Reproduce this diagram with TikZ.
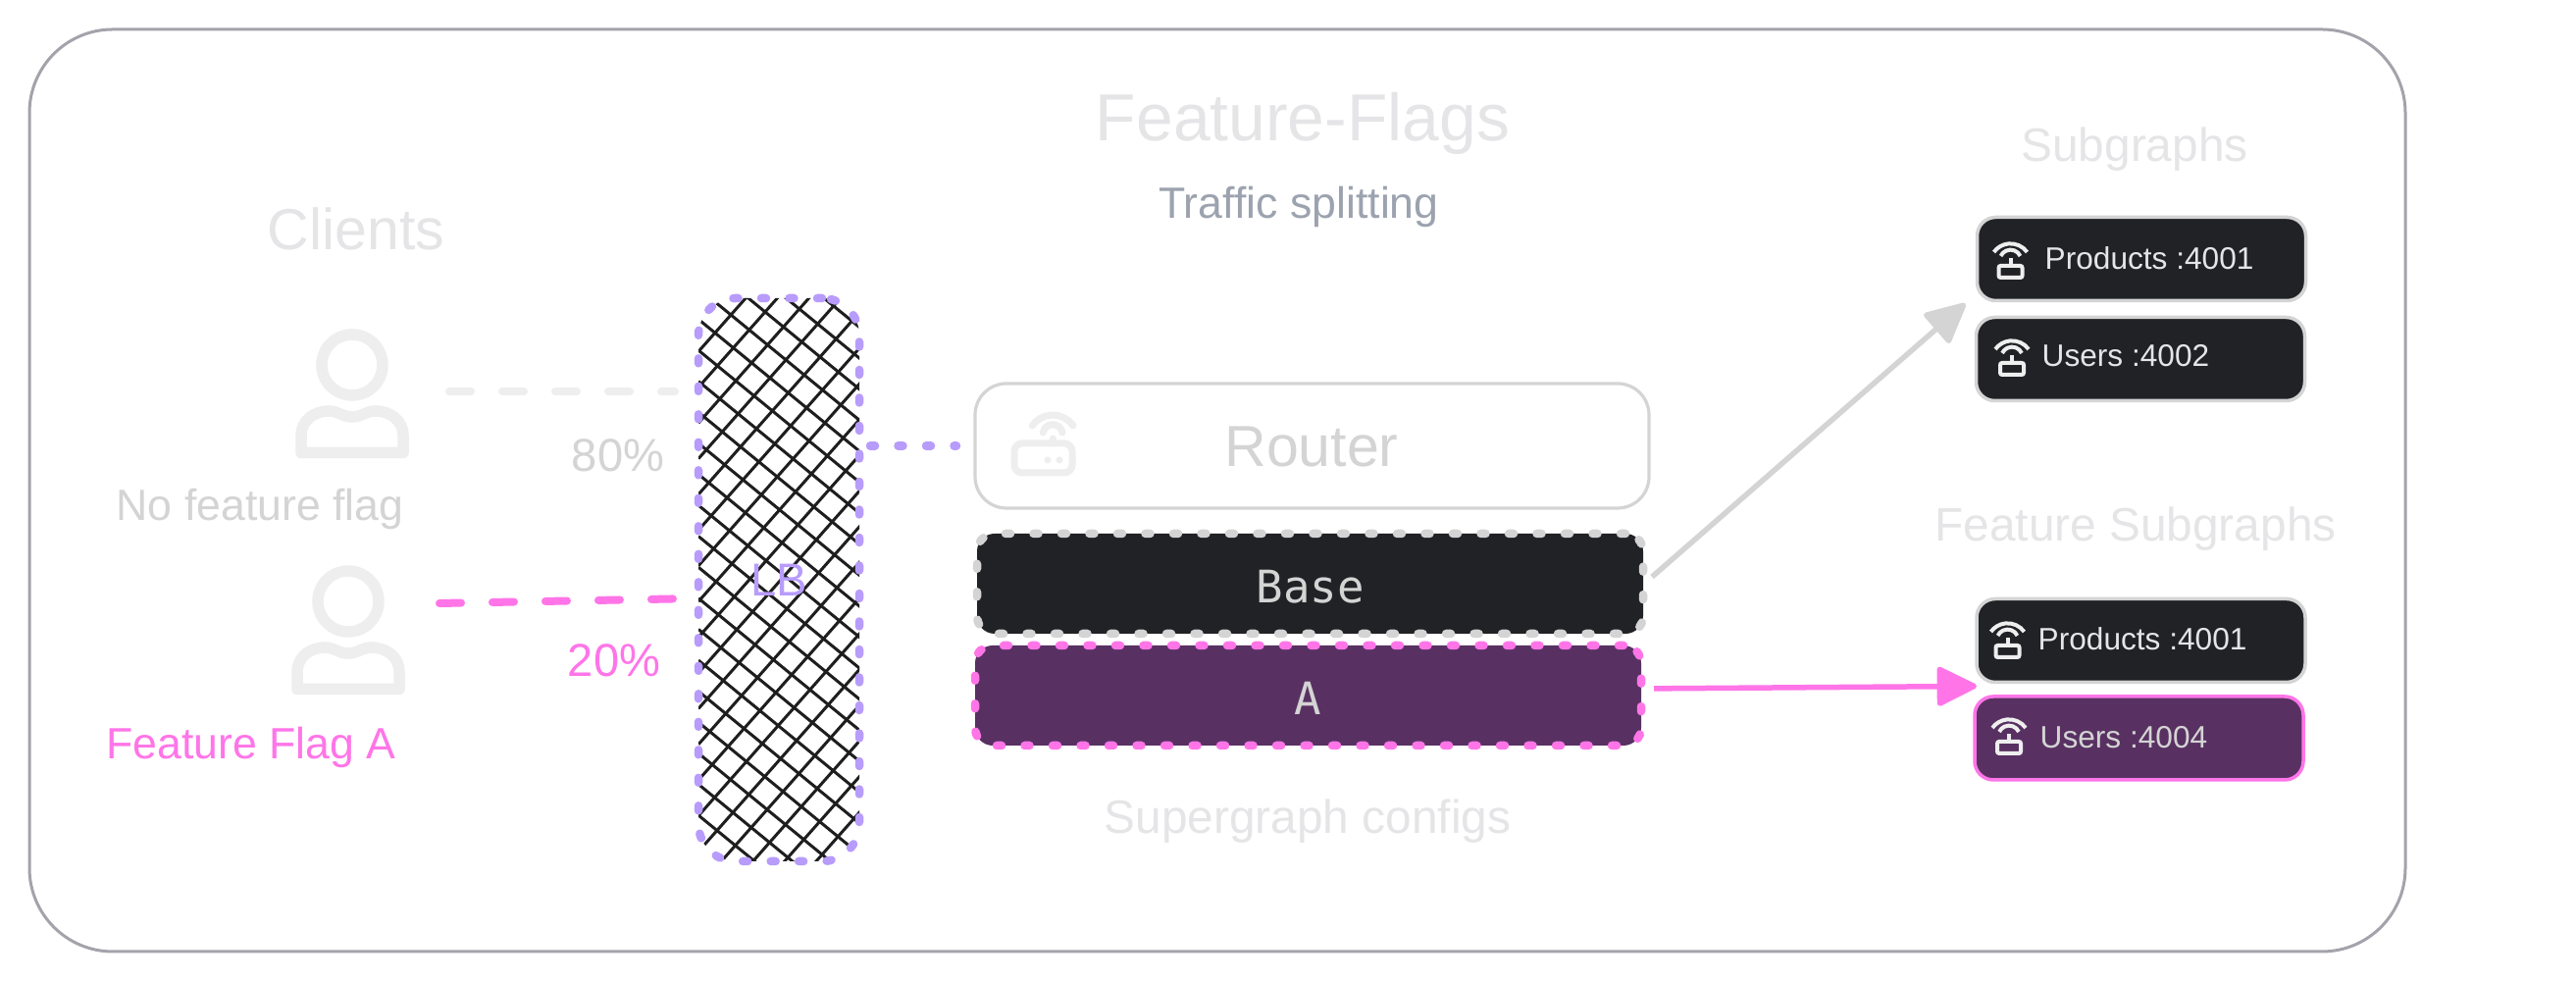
\documentclass[tikz,border=0pt]{standalone}
\usepackage{fontspec}
\setmainfont{Liberation Sans}
\setmonofont{DejaVu Sans Mono}
\definecolor{ash}{HTML}{D4D4D4}
\definecolor{mist}{HTML}{E5E5E7}
\definecolor{pale}{HTML}{EEEEEE}
\definecolor{slate}{HTML}{9CA3AF}
\definecolor{rim}{HTML}{A3A3AB}
\definecolor{pinky}{HTML}{FF75E8}
\definecolor{lilac}{HTML}{B89CFB}
\definecolor{coal}{HTML}{212226}
\definecolor{plum}{HTML}{583162}
\definecolor{hatchink}{HTML}{1E1E1E}
\usetikzlibrary{arrows.meta, positioning, calc}
\tikzset{
  head/.style={text=mist, inner sep=0pt, font=\fontsize{13.6pt}{16pt}\selectfont},
  bigger/.style={font=\fontsize{16.8pt}{20pt}\selectfont},
  lbl/.style={inner sep=0pt, font=\fontsize{12.7pt}{15pt}\selectfont},
  pct/.style={inner sep=0pt, font=\fontsize{13.4pt}{16pt}\selectfont},
  dotted line/.style={line width=0.085cm, dash pattern=on 0.05cm off 0.235cm, line cap=round},
  confbox/.style={dotted line, rounded corners=0.18cm, minimum width=6.79cm, minimum height=1.02cm, outer sep=0pt,
                  text=ash, text height=0.40cm, font=\ttfamily\fontsize{13pt}{16pt}\selectfont},
  subbox/.style={rounded corners=0.19cm, minimum width=3.35cm, minimum height=0.85cm, outer sep=0pt,
                 line width=0.035cm, draw=ash, fill=coal},
  subtext/.style={anchor=west, inner sep=0pt, text=mist, font=\fontsize{9pt}{11pt}\selectfont},
  flow/.style={-{Triangle[length=0.44cm,width=0.42cm,round]}, line width=0.055cm},
  split/.style={line width=0.08cm, line cap=round, dash pattern=on 0.22cm off 0.32cm},
  hatchline/.style={draw=hatchink, solid, line cap=butt, line width=0.03cm},
  wifi/.pic={
    \draw (0.17,0.08) arc[start angle=36,end angle=144,radius=0.21];
    \draw (0.10,0.04) arc[start angle=25,end angle=155,radius=0.11];
    \draw (0,0.02)--(0,-0.05);
    \draw[rounded corners=0.02cm] (-0.12,-0.06) rectangle (0.12,-0.18);
  },
  person/.pic={
    \draw (0,0) circle[radius=0.31];
    \draw[line join=round] (-0.52,-0.895)--(-0.52,-0.72) .. controls (-0.52,-0.56) and (-0.38,-0.47) .. (-0.24,-0.47)
      .. controls (-0.14,-0.47) and (-0.1,-0.53) .. (0,-0.53) .. controls (0.1,-0.53) and (0.14,-0.47) .. (0.24,-0.47)
      .. controls (0.38,-0.47) and (0.52,-0.56) .. (0.52,-0.72)--(0.52,-0.895)--cycle;
  },
}
\begin{document}
\begin{tikzpicture}
  \useasboundingbox (0,0) rectangle (26.26,10);
  \fill[white] (0,0) rectangle (26.26,10);
  \node[draw=rim,line width=0.03cm,rounded corners=0.85cm,minimum width=24.22cm,minimum height=9.4cm,outer sep=0pt] (frame) at (12.41,5) {};

  % headings
  \node[head,font=\fontsize{19.3pt}{23pt}\selectfont] (flags) at (13.28,8.74) {Feature-Flags};
  \node[lbl,text=slate] (traffic) at (13.24,7.89) {Traffic splitting};
  \node[head,bigger] (clients) at (3.63,7.67) {Clients};
  \node[head] (subs) at (21.76,8.48) {Subgraphs};
  \node[head] (featsubs) at (21.77,4.61) {Feature Subgraphs};
  \node[head] (configs) at (13.33,1.63) {Supergraph configs};

  % clients
  \pic[draw=pale,line width=0.115cm] at (3.59,6.28) {person};
  \pic[draw=pale,line width=0.115cm] at (3.55,3.87) {person};
  \coordinate (nfout) at (4.58,6.01);
  \coordinate (ffout) at (4.48,3.85);
  \node[lbl,text=ash] (noflag) at (2.65,4.81) {No feature flag};
  \node[lbl,text=pinky] (flaga) at (2.56,2.38) {Feature Flag A};
  \node[pct,text=ash] (eighty) at (6.30,5.36) {80\%};
  \node[pct,text=pinky] (twenty) at (6.26,3.27) {20\%};

  % load balancer
  \node[draw=lilac,dotted line,rounded corners=0.38cm,
    minimum width=1.64cm,minimum height=5.74cm,outer sep=0pt,
    path picture={
      \foreach \k in {-4,...,17} \draw[hatchline] (-0.82,{2.655-0.316*\k})--++(1.66,-1.36);
      \foreach \k in {0,...,21} \draw[hatchline] (-0.82,{2.69-0.364*\k})--++(1.66,1.876);
    }] (lb) at (7.94,4.09) {};
  \node[pct,text=lilac] (lbtext) at (lb.center) {LB};

  % router and configs
  \node[draw=ash,line width=0.032cm,rounded corners=0.32cm,minimum width=6.87cm,minimum height=1.27cm,outer sep=0pt] (router) at (13.375,5.455) {};
  \node[bigger,inner sep=0pt,text=ash] (routertext) at (13.37,5.44) {Router};
  \begin{scope}[draw=pale,line width=0.07cm,line cap=round]
    \draw (10.94,5.66) arc[start angle=35,end angle=145,radius=0.255];
    \draw (10.83,5.59) arc[start angle=10,end angle=170,radius=0.10];
    \draw (10.73,5.53)--(10.73,5.50);
    \draw[rounded corners=0.08cm] (10.34,5.18) rectangle (10.93,5.48);
    \fill[pale] (10.68,5.31) circle[radius=0.035] (10.80,5.31) circle[radius=0.035];
  \end{scope}
  \node[confbox,draw=ash,fill=coal] (base) at (13.355,4.05) {Base};
  \node[confbox,draw=pinky,fill=plum] (confa) at (13.335,2.91) {A};

  % subgraphs
  \node[subbox] (subone) at (21.83,7.36) {};
  \node[subbox] (subtwo) at (21.82,6.34) {};
  \node[subbox] (subthree) at (21.825,3.47) {};
  \node[subbox,draw=pinky,fill=plum] (subfour) at (21.805,2.475) {};
  \node[subtext] (onetext) at (20.84,7.37) {Products :4001};
  \node[subtext] (twotext) at (20.81,6.37) {Users :4002};
  \node[subtext] (threetext) at (20.77,3.49) {Products :4001};
  \node[subtext,text=ash] (fourtext) at (20.79,2.48) {Users :4004};
  \foreach \ix/\iy in {20.495/7.35, 20.51/6.36, 20.465/3.48, 20.48/2.50}
    \pic[draw=pale,line width=0.04cm] at (\ix,\iy) {wifi};

  % connectors
  \draw[split,draw=pale,shorten >=0.24cm] (nfout)--(nfout -| lb.west);
  \draw[split,draw=pinky,shorten >=0.16cm] (ffout)--([yshift=0.05cm]ffout -| lb.west);
  \draw[draw=lilac,dotted line,shorten <=0.11cm,shorten >=0.19cm] (router.west -| lb.east)--(router.west);
  \draw[flow,draw=ash,fill=ash,shorten <=0.12cm] ([yshift=-0.01cm]base.east)--([shift={(-0.12,-0.03)}]subone.south west);
  \draw[flow,draw=pinky,fill=pinky,shorten <=0.13cm] ([yshift=0.07cm]confa.east)--([yshift=-0.04cm]subthree.south west);
\end{tikzpicture}
\end{document}
